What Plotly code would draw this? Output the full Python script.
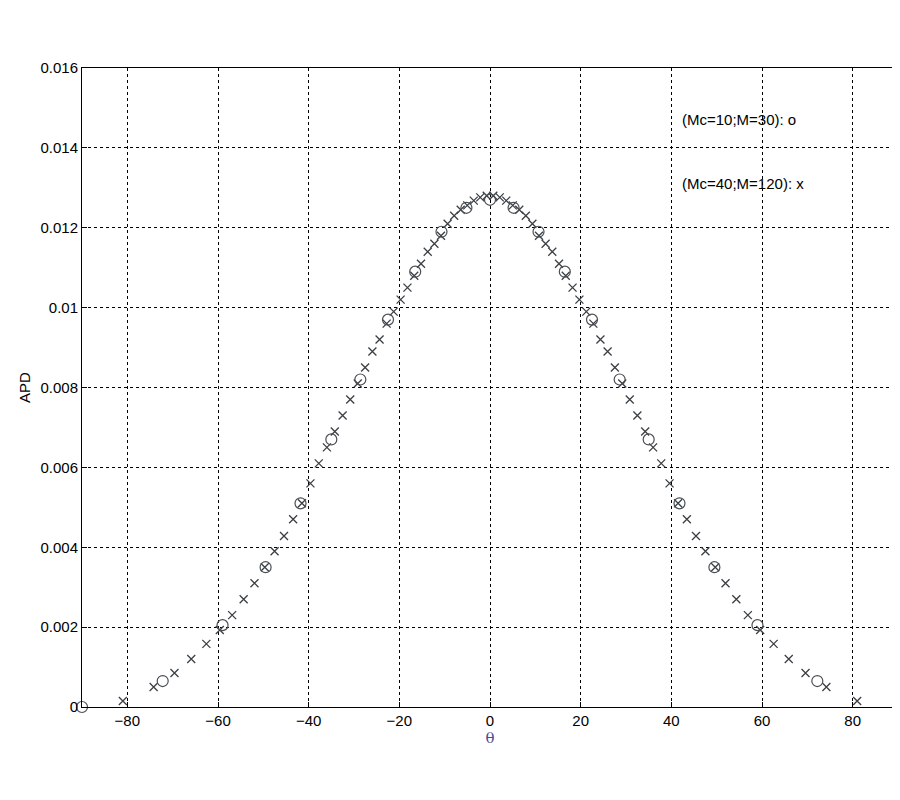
import plotly.graph_objects as go

# circles (Mc=10; M=30), right half, mirrored below
theta_o_half = [0, 5.2, 10.7, 16.5, 22.5, 28.6, 35.0, 41.8, 49.5, 59.0, 72.2, 90]
apd_o_half = [0.0127, 0.0125, 0.0119, 0.0109, 0.0097, 0.0082, 0.0067, 0.0051, 0.0035, 0.00205, 0.00065, 0.0]

# crosses (Mc=40; M=120), right half
theta_x_half = [0.72, 2.15, 3.58, 5.02, 6.46, 7.90, 9.35, 10.81, 12.27, 13.74,
                15.22, 16.71, 18.21, 19.72, 21.25, 22.80, 24.36, 25.94, 27.55, 29.17,
                30.83, 32.51, 34.23, 35.98, 37.77, 39.61, 41.49, 43.43, 45.44, 47.52,
                49.68, 51.95, 54.34, 56.88, 59.60, 62.57, 65.90, 69.60, 74.20, 80.99]
apd_x_half = [0.01280, 0.01276, 0.01268, 0.01256, 0.01245, 0.01230, 0.01210, 0.01180, 0.01160, 0.01140,
              0.01110, 0.01080, 0.01050, 0.01020, 0.00990, 0.00960, 0.00920, 0.00890, 0.00850, 0.00810,
              0.00770, 0.00730, 0.00690, 0.00650, 0.00610, 0.00560, 0.00510, 0.00470, 0.00428, 0.00390,
              0.00350, 0.00310, 0.00270, 0.00230, 0.00193, 0.00158, 0.00120, 0.00085, 0.00050, 0.00015]

theta_o = [-t for t in theta_o_half[:0:-1]] + theta_o_half
apd_o = apd_o_half[:0:-1] + apd_o_half
theta_x = [-t for t in theta_x_half[::-1]] + theta_x_half
apd_x = apd_x_half[::-1] + apd_x_half

fig = go.Figure()
fig.add_trace(go.Scatter(x=theta_x, y=apd_x, mode="markers", cliponaxis=False,
                         marker=dict(symbol="x-thin", size=8, line=dict(width=1.3, color="#3a3f44"))))
fig.add_trace(go.Scatter(x=theta_o, y=apd_o, mode="markers", cliponaxis=False,
                         marker=dict(symbol="circle-open", size=11, line=dict(width=1.2), color="#4a4f54")))

axis = dict(showgrid=True, gridcolor="black", griddash="dot", gridwidth=1,
            showline=True, linecolor="black", mirror=True, zeroline=False,
            ticks="inside", ticklen=5, tickcolor="black",
            tickfont=dict(family="Liberation Sans, Arial", size=15, color="black"))
fig.update_xaxes(range=[-90, 90], dtick=20, title=dict(text="θ", standoff=2,
                 font=dict(family="DejaVu Serif", size=15, color="#4a4a9a")), **axis)
fig.update_yaxes(range=[0, 0.016], dtick=0.002, tickformat="~g", title=dict(text="APD", standoff=6,
                 font=dict(family="Liberation Sans, Arial", size=15, color="black")), **axis)

for txt, yv in [("(Mc=10;M=30): o", 0.0147), ("(Mc=40;M=120): x", 0.0131)]:
    fig.add_annotation(x=42, y=yv, text=txt, showarrow=False, xanchor="left",
                       font=dict(family="Liberation Sans, Arial", size=15, color="black"))

fig.update_layout(width=900, height=800, showlegend=False,
                  plot_bgcolor="white", paper_bgcolor="white",
                  margin=dict(l=74, r=10, t=60, b=101))
fig.write_html("out.html")
